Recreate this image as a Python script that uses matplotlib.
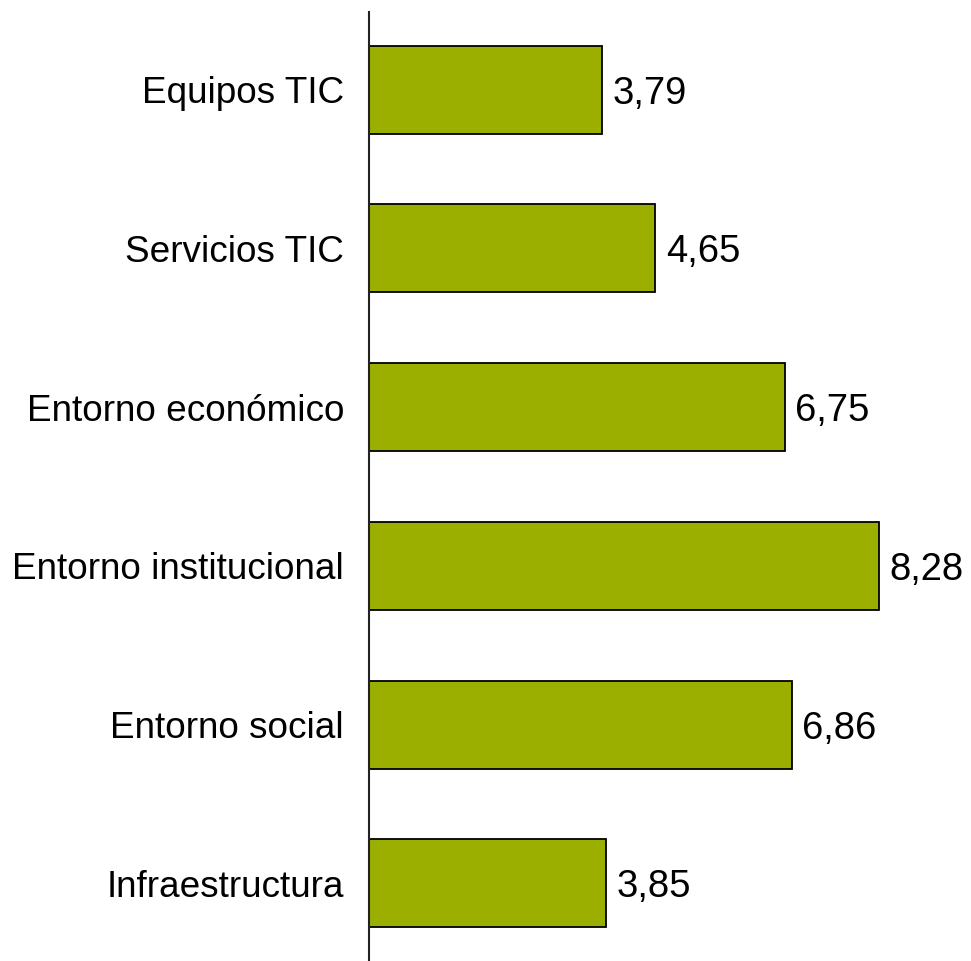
import matplotlib
matplotlib.use("Agg")
import matplotlib.pyplot as plt

categories = ["Equipos TIC", "Servicios TIC", "Entorno económico",
              "Entorno institucional", "Entorno social", "Infraestructura"]
values = [3.79, 4.65, 6.75, 8.28, 6.86, 3.85]
value_labels = ["3,79", "4,65", "6,75", "8,28", "6,86", "3,85"]

plt.rcParams['font.family'] = ['Liberation Sans', 'DejaVu Sans']

fig = plt.figure(figsize=(9.71, 9.61), dpi=100)
ax_left = 369 / 971
xmax = 9.6
px_per_unit = 61.6
ax_w = xmax * px_per_unit / 971
ax = fig.add_axes([ax_left, 0.0, ax_w, 949 / 961])

pos = list(range(len(categories)))
ax.barh(pos, values, height=0.555, color="#9BAF00", edgecolor="black", linewidth=1.3)
ax.set_ylim(len(categories) - 1 + 0.49, -0.49)
ax.set_xlim(0, xmax)

for p, v, lab in zip(pos, values, value_labels):
    ax.annotate(lab, (v, p), xytext=(7.5, 0), textcoords="offset points",
                va="center_baseline", ha="left", fontsize=27.5)

ax.set_yticks(pos)
ax.set_yticklabels(categories, fontsize=26.6, va="center_baseline")
ax.tick_params(axis="y", length=0, pad=18)
ax.set_xticks([])
for s in ["top", "right", "bottom"]:
    ax.spines[s].set_visible(False)
ax.spines["left"].set_linewidth(1.5)
ax.spines["left"].set_color("#222222")

fig.savefig("out.png", dpi=100)
